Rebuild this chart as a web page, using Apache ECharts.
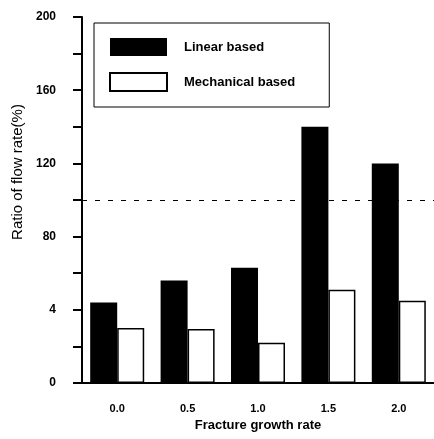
<!DOCTYPE html>
<html>
<head>
<meta charset="utf-8">
<script src="https://cdn.jsdelivr.net/npm/echarts@6/dist/echarts.min.js"></script>
<style>
  html, body { margin: 0; padding: 0; background: #fff; }
  #chart { width: 434px; height: 439px; }
</style>
</head>
<body>
<div id="chart"></div>
<script>
const categories = ['0.0', '0.5', '1.0', '1.5', '2.0'];
const linearBased = [44, 56, 63, 140, 120];
const mechanicalBased = [30, 29.5, 22, 51, 45];
const referenceLevel = 100;
// tick labels as printed in the figure (the 40 is printed as "4")
const yTickLabels = { 0: '0', 40: '4', 80: '80', 120: '120', 160: '160', 200: '200' };

const narrow = '"Liberation Sans Narrow", "Arial Narrow", "Liberation Sans", Arial, sans-serif';
const ink = '#000';

const chart = echarts.init(document.getElementById('chart'));

chart.setOption({
  backgroundColor: '#fff',
  animation: false,
  grid: { left: 82, right: -3, top: 17, bottom: 56 },
  legend: {
    orient: 'vertical',
    left: 94,
    top: 23,
    padding: [15, 34, 15, 15],
    itemWidth: 57,
    itemHeight: 18,
    itemGap: 16,
    borderColor: ink,
    borderWidth: 1,
    icon: 'rect',
    textStyle: {
      color: ink,
      fontFamily: narrow,
      fontWeight: 'bold',
      fontSize: 13,
      padding: [0, 0, 0, 12]
    },
    data: ['Linear based', 'Mechanical based']
  },
  xAxis: {
    type: 'category',
    data: categories,
    name: 'Fracture growth rate',
    nameLocation: 'middle',
    nameGap: 34,
    nameTextStyle: { color: ink, fontFamily: narrow, fontWeight: 'bold', fontSize: 13 },
    axisLine: { lineStyle: { color: ink, width: 2 } },
    axisTick: { alignWithLabel: true, length: 11, lineStyle: { color: ink, width: 2 } },
    axisLabel: { color: ink, fontFamily: narrow, fontWeight: 'bold', fontSize: 11, margin: 20 },
    splitLine: { show: false }
  },
  yAxis: {
    type: 'value',
    min: 0,
    max: 200,
    interval: 20,
    name: 'Ratio of flow rate(%)',
    nameLocation: 'middle',
    nameGap: 55,
    nameRotate: 90,
    nameTextStyle: { color: ink, fontFamily: 'Liberation Sans, Arial, sans-serif', fontSize: 15, padding: [0, 0, 0, 56] },
    axisLine: { show: true, lineStyle: { color: ink, width: 2 } },
    axisTick: { show: true, inside: false, length: 9, lineStyle: { color: ink, width: 2 } },
    axisLabel: {
      color: ink,
      fontFamily: narrow,
      fontWeight: 'bold',
      fontSize: 12,
      margin: 26,
      formatter: (v) => (v in yTickLabels ? yTickLabels[v] : '')
    },
    splitLine: { show: false }
  },
  series: [
    {
      name: 'Linear based',
      type: 'bar',
      data: linearBased,
      barWidth: 27,
      barGap: '0%',
      itemStyle: { color: ink },
      markLine: {
        silent: true,
        symbol: 'none',
        label: { show: false },
        lineStyle: { color: ink, width: 1.2, type: [5, 8] },
        data: [{ yAxis: referenceLevel }]
      }
    },
    {
      name: 'Mechanical based',
      type: 'bar',
      data: mechanicalBased,
      barWidth: 27,
      barGap: '0%',
      itemStyle: { color: '#fff', borderColor: ink, borderWidth: 1.5 }
    }
  ]
});
</script>
</body>
</html>
